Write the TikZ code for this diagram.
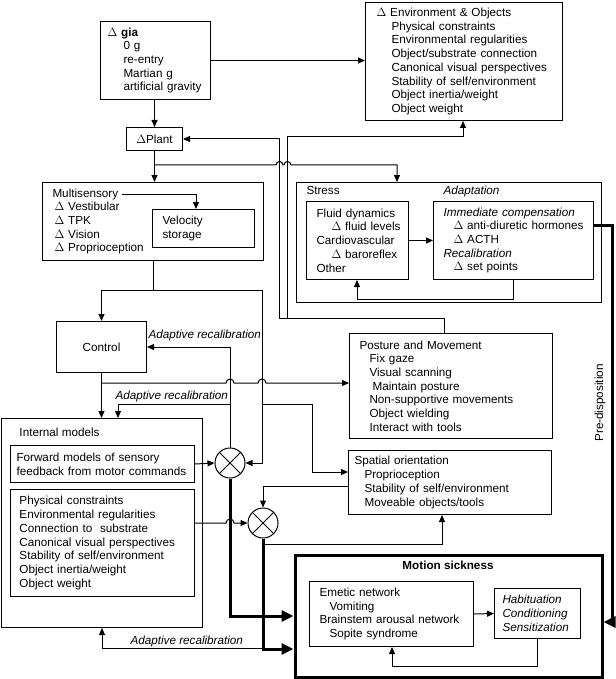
\documentclass[tikz,border=0pt]{standalone}
\usepackage{fontspec}
\setmainfont{Liberation Sans}
\usetikzlibrary{arrows.meta,positioning}
\newcommand{\indt}[1][10pt]{\hspace*{#1}}
\tikzset{
 box/.style
  = {rectangle, draw, align=left, anchor=north west, inner ysep=1pt,
     font=\fontsize{11.7}{13.7}\selectfont},
 txt/.style
  = {inner sep=0pt, font=\fontsize{11.7}{13.7}\selectfont},
 sum/.style
  = {circle, draw, minimum size=30pt, inner sep=0pt,
     path picture={\draw (path picture bounding box.north west) -- (path picture bounding box.south east)
                         (path picture bounding box.north east) -- (path picture bounding box.south west);}},
 l/.style
  = {draw, -{Triangle[length=7pt,width=6pt]}},
 ll/.style
  = {draw, line width=3pt, -{Triangle[length=12pt,width=11pt]}},
}
\begin{document}
\begin{tikzpicture}[x=1pt, y=-1pt, line width=1pt]
\useasboundingbox (0,0) rectangle (615,679);
% top row
\node (gia) [box, text width=96pt, inner xsep=7pt, minimum height=78pt] at (100,21)
 {$\Delta$ \textbf{gia}\\\indt[16pt]0 g\\\indt[16pt]re-entry\\\indt[16pt]Martian g\\\indt[16pt]artificial gravity};
\node (env) [box, text width=175pt, inner xsep=11pt, minimum height=118pt] at (365,2)
 {$\Delta$ Environment \& Objects\\\indt[15pt]Physical constraints\\\indt[15pt]Environmental regularities\\
  \indt[15pt]Object/substrate connection\\\indt[15pt]Canonical visual perspectives\\
  \indt[15pt]Stability of self/environment\\\indt[15pt]Object inertia/weight\\\indt[15pt]Object weight};
\node (plant) [box, align=center, minimum width=56pt, minimum height=23pt] at (126,127) {$\Delta$Plant};
% sensory and stress
\node (multi) [box, text width=201pt, inner xsep=10pt, minimum height=78pt] at (42,182)
 {Multisensory\\\indt[2pt]$\Delta$ Vestibular\\\indt[2pt]$\Delta$ TPK\\\indt[2pt]$\Delta$ Vision\\\indt[2pt]$\Delta$ Proprioception};
\node (velo) [box, text width=82pt, inner xsep=10pt, minimum height=38pt] at (152,209) {Velocity\\storage};
\coordinate (ms) at (122,194);
\node (stress) [box, minimum width=305pt, minimum height=120pt] at (296,182) {};
\node (stresst) [txt, anchor=base west] at (306,194) {Stress};
\node (adaptt) [txt, anchor=base west] at (443,194) {\itshape Adaptation};
\node (fluid) [box, text width=82pt, inner xsep=10pt, minimum height=78pt] at (306,201)
 {Fluid dynamics\\\indt[15pt]\mbox{$\Delta$ fluid levels}\\Cardiovascular\\\indt[15pt]\mbox{$\Delta$ baroreflex}\\Other};
\node (adapt) [box, text width=140pt, inner xsep=10pt, minimum height=78pt] at (433,201)
 {\mbox{\itshape Immediate compensation}\\\indt\mbox{$\Delta$ anti-diuretic hormones}\\\indt$\Delta$ ACTH\\\textit{Recalibration}\\\indt$\Delta$ set points};
% control and behaviour
\node (control) [box, align=center, minimum width=90pt, minimum height=51pt] at (56,321) {Control};
\node (posture) [box, text width=183pt, inner xsep=10pt, minimum height=105pt] at (349,333)
 {Posture and Movement\\\indt Fix gaze\\\indt Visual scanning\\\indt[13pt]Maintain posture\\
  \indt Non-supportive movements\\\indt Object wielding\\\indt Interact with tools};
\node (internal) [box, minimum width=201pt, minimum height=209pt] at (1,418) {};
\node (internalt) [txt, anchor=base west] at (19,436) {Internal models};
\node (forward) [box, text width=172pt, inner xsep=6pt, minimum height=37pt] at (10,445)
 {Forward models of sensory\\feedback from motor commands};
\node (physical) [box, text width=166pt, inner xsep=9pt, minimum height=107pt] at (10,489)
 {Physical constraints\\Environmental regularities\\Connection to\ \ substrate\\Canonical visual perspectives\\
  Stability of self/environment\\Object inertia/weight\\Object weight};
\node (spatial) [box, text width=191pt, inner xsep=6pt, minimum height=64pt] at (348,450)
 {Spatial orientation\\\indt Proprioception\\\indt Stability of self/environment\\\indt Moveable objects/tools};
\node (c1) [sum] at (230,463) {};
\node (c2) [sum] at (263,523) {};
% motion sickness
\node (motion) [box, line width=3pt, minimum width=307pt, minimum height=122pt] at (293.5,553.5) {};
\node (motiont) [txt, anchor=base] at (448,569) {\bfseries Motion sickness};
\node (emetic) [box, text width=144pt, inner xsep=10pt, minimum height=65pt] at (309,581)
 {Emetic network\\\indt Vomiting\\Brainstem arousal network\\\indt Sopite syndrome};
\node (habit) [box, text width=70pt, inner xsep=8pt, minimum height=50pt, font=\fontsize{11.7}{13.7}\selectfont\itshape] at (494,588)
 {Habituation\\Conditioning\\Sensitization};
% labels
\node (ar1) [txt, anchor=base west, font=\fontsize{11.7}{13.7}\selectfont\itshape] at (148,338) {Adaptive recalibration};
\node (ar2) [txt, anchor=base west, font=\fontsize{11.7}{13.7}\selectfont\itshape] at (115,399) {Adaptive recalibration};
\node (ar3) [txt, anchor=base west, font=\fontsize{11.7}{13.7}\selectfont\itshape] at (130,644) {Adaptive recalibration};
\node (predisp) [txt, rotate=90] at (600,403) {Pre-disposition};
% connectors
\draw [l] (gia.east) -- (gia.east -| env.west);
\draw [l] (gia.south -| plant.north) -- (plant.north);
\draw [l] (plant.south) -- (plant.south |- multi.north);
\draw [l] (plant.south |- 0,165) -- (276,165) arc[start angle=180, end angle=360, radius=3.5]
 -- (284,165) arc[start angle=180, end angle=360, radius=3.5] -- (397,165) -- (397,165 |- stress.north);
\draw [l] (posture.north -| 444,0) |- (279.5,318) |- (plant.east);
\draw [l] (287.5,318) -- (287.5,137) -| (env.south -| 463,0);
\draw [l] (ms) -| (velo.north -| 196,0);
\draw [l] (multi.south) -- (multi.south |- 0,290) -| (control.north);
\draw [l] (multi.south |- 0,290) -- (262,290) |- (c1.east);
\draw [l] (262,404) -- (312,404) |- (spatial.west |- 0,472);
\draw [l] (control.south) -- (control.south |- internal.north);
\draw [l] (control.south |- 0,383) -- (226,383) arc[start angle=180, end angle=360, radius=4]
 -- (258,383) arc[start angle=180, end angle=360, radius=4] -- (posture.west |- 0,383);
\draw [l] (c1.north) |- (control.east);
\draw [l] (c1.north |- 0,404) -| (internal.north -| 118,0);
\draw [l] (forward.east) -- (c1.west);
\draw [l] (physical.east |- 0,523) -- (226,523) arc[start angle=180, end angle=360, radius=4] -- (c2.west);
\draw [l] (spatial.west |- 0,486) -| (c2.north);
\draw [ll] (c1.south) |- (motion.west |- 0,616);
\draw [ll] (c2.south) |- (motion.west |- 0,649);
\draw [l] (c2.south |- 0,544) -| (spatial.south -| 442,0);
\draw [l] (c2.south |- 0,648) -| (internal.south);
\draw [l] (fluid.east) -- (adapt.west);
\draw [l] (adapt.south -| 513,0) -- (513,299) -| (fluid.south -| 357,0);
\draw [ll] (adapt.east |- 0,225) -- (612,225) |- (motion.east |- 0,622);
\draw [l] (emetic.east) -- (habit.west);
\draw [l] (habit.south) |- (392,666) -- (emetic.south -| 392,0);
\end{tikzpicture}
\end{document}
